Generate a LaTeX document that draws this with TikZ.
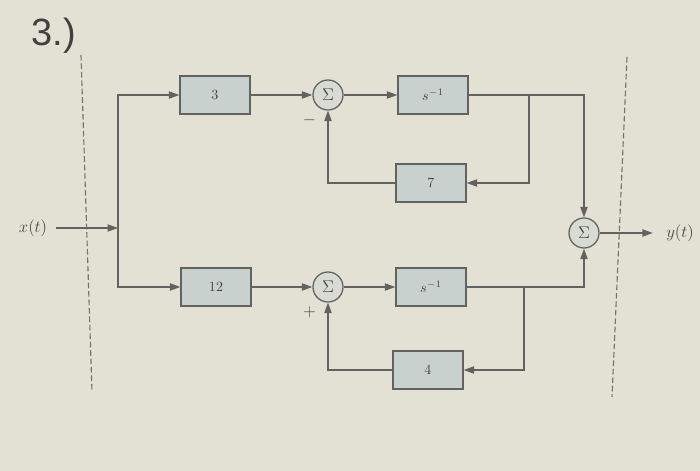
\documentclass[tikz,border=0pt]{standalone}
\usepackage{fontspec}
\newfontfamily\hdfont{Liberation Sans}
\usetikzlibrary{positioning,arrows.meta}
\definecolor{paper}{RGB}{226,225,212}
\definecolor{wire}{RGB}{98,98,96}
\definecolor{boxfill}{RGB}{201,209,207}
\tikzset{
  blk/.style={draw=wire, fill=boxfill, line width=0.9pt, minimum width=17.5mm, minimum height=9.5mm, inner sep=1pt, font=\normalsize, text=wire!70!black},
  sum/.style={draw=wire, circle, fill=paper!60!boxfill, line width=0.9pt, minimum size=7.5mm, inner sep=0pt, font=\large, text=wire!70!black},
  fl/.style={-{Triangle[length=2.6mm,width=1.8mm]}, wire, line width=0.9pt},
  ln/.style={wire, line width=0.9pt},
  bnd/.style={wire!90, dashed, dash pattern=on 4pt off 2pt, line width=0.8pt},
  sig/.style={font=\large, text=wire!70!black},
}
\begin{document}
\begin{tikzpicture}[x=0.025cm, y=-0.025cm]
\fill[paper] (0,0) rectangle (700,471);
\useasboundingbox (0,0) rectangle (700,471);
\node[font=\hdfont\fontsize{27}{30}\selectfont, text=black!75] (num) at (54,36) {3.)};
% system boundary
\coordinate (bL1) at (81,55);
\coordinate (bL2) at (92,392);
\coordinate (bR1) at (627,57);
\coordinate (bR2) at (612,397);
\draw[bnd] (bL1) -- (bL2);
\draw[bnd] (bR1) -- (bR2);
% upper branch
\node[blk] (gA) at (215,95) {3};
\node[sum] (sumA) at (328,95) {$\Sigma$};
\node[blk] (intA) at (433,95) {$s^{-1}$};
\node[blk] (fbA) at (431,183) {7};
\node[sig, below left=1mm and -1mm of sumA] (mA) {$-$};
% lower branch
\node[blk] (gB) at (216,287) {12};
\node[sum] (sumB) at (328,287) {$\Sigma$};
\node[blk] (intB) at (431,287) {$s^{-1}$};
\node[blk] (fbB) at (428,370) {4};
\node[sig, below left=1mm and -1mm of sumB] (pB) {$+$};
% output sum, input/output
\node[sum] (sumY) at (584,233) {$\Sigma$};
\node[sig] (xin) at (33,228) {$x(t)$};
\node[sig] (yout) at (680,233) {$y(t)$};
\coordinate (split) at (118,228);
\coordinate (tapA) at (529,95);
\coordinate (tapB) at (524,287);

\draw[fl, shorten <=3pt] (xin) -- (split);
\draw[fl] (split) |- (gA);
\draw[fl] (split) |- (gB);
\draw[fl] (gA) -- (sumA);
\draw[fl] (sumA) -- (intA);
\draw[ln] (intA) -- (tapA);
\draw[fl] (tapA) -| (sumY);
\draw[fl] (tapA) |- (fbA);
\draw[fl] (fbA) -| (sumA);
\draw[fl] (gB) -- (sumB);
\draw[fl] (sumB) -- (intB);
\draw[ln] (intB) -- (tapB);
\draw[fl] (tapB) -| (sumY);
\draw[fl] (tapB) |- (fbB);
\draw[fl] (fbB) -| (sumB);
\draw[fl, shorten >=6pt] (sumY) -- (yout);
\end{tikzpicture}
\end{document}
